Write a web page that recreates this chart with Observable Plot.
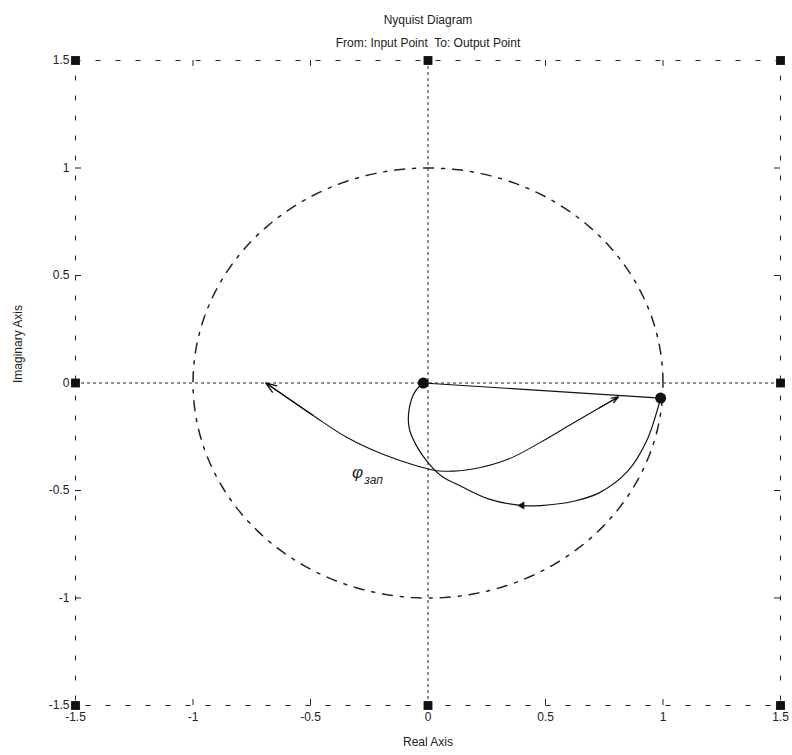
<!DOCTYPE html>
<html><head><meta charset="utf-8">
<script src="https://cdn.jsdelivr.net/npm/d3@7"></script>
<script src="https://cdn.jsdelivr.net/npm/@observablehq/plot@0.6"></script>
<style>body{margin:0;background:#fff}#chart{width:792px;height:755px}</style>
</head><body><div id="chart"></div>
<script>
const title = "Nyquist Diagram";
const subtitle = "From: Input Point  To: Output Point";
const xLabel = "Real Axis";
const yLabel = "Imaginary Axis";
const tickValues = [-1.5, -1, -0.5, 0, 0.5, 1, 1.5];
const frameTicks = [-1, -0.5, 0.5, 1];
const axisLimit = 1.5;

// Nyquist curve (from the point near 1 back to the origin)
const nyqRe = [0.99, 0.93, 0.85, 0.73, 0.62, 0.48, 0.40, 0.26, 0.14, 0.06, 0.0, -0.05, -0.08, -0.08, -0.055, -0.02];
const nyqIm = [-0.07, -0.27, -0.41, -0.51, -0.55, -0.57, -0.57, -0.54, -0.48, -0.435, -0.37, -0.29, -0.21, -0.12, -0.04, 0.0];

// straight segment from origin to the point near 1
const segRe = [-0.02, 0.99];
const segIm = [0.0, -0.07];

// phase-margin arc (double arrow)
const arcRe = [-0.69, -0.49, -0.35, -0.20, -0.06, 0.05, 0.19, 0.34, 0.48, 0.62, 0.73, 0.81];
const arcIm = [0.0, -0.15, -0.25, -0.328, -0.381, -0.409, -0.40, -0.355, -0.275, -0.185, -0.115, -0.065];

// marked points
const dotRe = [-0.02, 0.99];
const dotIm = [0.0, -0.07];
const dirArrowRe = [0.40];
const dirArrowIm = [-0.57];

// unit circle (reference guide)
const unitRadius = 1;
const circle = d3.range(0, 361, 2).map(a => ({x: unitRadius * Math.cos(a * Math.PI / 180), y: unitRadius * Math.sin(a * Math.PI / 180)}));

const nyq = nyqRe.map((x, i) => ({x, y: nyqIm[i]}));
const seg = segRe.map((x, i) => ({x, y: segIm[i]}));
const arc = arcRe.map((x, i) => ({x, y: arcIm[i]}));
const n = arc.length;
const arcHeads = [
  {x1: arc[1].x, y1: arc[1].y, x2: arc[0].x, y2: arc[0].y},
  {x1: arc[n - 2].x, y1: arc[n - 2].y, x2: arc[n - 1].x, y2: arc[n - 1].y}
];
const dots = dotRe.map((x, i) => ({x, y: dotIm[i]}));
const dirArrow = dirArrowRe.map((x, i) => ({x, y: dirArrowIm[i]}));
const squares = [
  {x: -axisLimit, y: axisLimit}, {x: 0, y: axisLimit}, {x: axisLimit, y: axisLimit},
  {x: -axisLimit, y: 0}, {x: axisLimit, y: 0},
  {x: -axisLimit, y: -axisLimit}, {x: 0, y: -axisLimit}, {x: axisLimit, y: -axisLimit}
];

const W = 792, H = 755, mL = 75, mR = 12, mT = 60, mB = 50;
const pw = W - mL - mR, ph = H - mT - mB;
const font = "'Liberation Sans', Arial, sans-serif";

const chart = Plot.plot({
  width: W, height: H,
  marginLeft: mL, marginRight: mR, marginTop: mT, marginBottom: mB,
  style: {fontFamily: font, fontSize: "12px", color: "#222", background: "#fff"},
  x: {domain: [-axisLimit, axisLimit]},
  y: {domain: [-axisLimit, axisLimit]},
  marks: [
    Plot.frame({stroke: "#222", strokeDasharray: "5,15"}),
    Plot.ruleX([0], {stroke: "#222", strokeDasharray: "3,3"}),
    Plot.ruleY([0], {stroke: "#222", strokeDasharray: "3,3"}),
    Plot.ruleX(frameTicks, {x: d => d, insetBottom: ph - 6, stroke: "#222"}),
    Plot.ruleX(frameTicks, {x: d => d, insetTop: ph - 6, stroke: "#222"}),
    Plot.ruleY(frameTicks, {y: d => d, insetRight: pw - 6, stroke: "#222"}),
    Plot.ruleY(frameTicks, {y: d => d, insetLeft: pw - 6, stroke: "#222"}),
    Plot.axisY({ticks: tickValues, tickSize: 0, tickPadding: 6, tickFormat: d => String(d), label: null, fontSize: 12}),
    Plot.axisX({ticks: tickValues, tickSize: 0, tickPadding: 7, tickFormat: d => String(d), label: null, fontSize: 12}),
    Plot.line(circle, {x: "x", y: "y", stroke: "#222", strokeDasharray: "10,8,3,8"}),
    Plot.line(seg, {x: "x", y: "y", stroke: "#111", strokeWidth: 1.2}),
    Plot.line(nyq, {x: "x", y: "y", curve: "catmull-rom", stroke: "#111", strokeWidth: 1.2}),
    Plot.line(arc, {x: "x", y: "y", curve: "catmull-rom", stroke: "#111", strokeWidth: 1.1}),
    Plot.arrow(arcHeads, {x1: "x1", y1: "y1", x2: "x2", y2: "y2", headLength: 13, headAngle: 40, stroke: "#111", strokeWidth: 1.3}),
    Plot.dot(dirArrow, {x: "x", y: "y", symbol: "triangle", rotate: -90, r: 3, fill: "#111"}),
    Plot.dot(dots, {x: "x", y: "y", r: 5.5, fill: "#111"}),
    Plot.dot(squares, {x: "x", y: "y", symbol: "square", r: 5, fill: "#111"}),
    Plot.text(["φ"], {x: -0.30, y: -0.415, fontSize: 17, fontStyle: "italic", fill: "#222"}),
    Plot.text(["зап"], {x: -0.232, y: -0.45, fontSize: 12, fontStyle: "italic", fill: "#222"}),
    Plot.text([title], {frameAnchor: "top", dy: -45, fontSize: 12, fill: "#222"}),
    Plot.text([subtitle], {frameAnchor: "top", dy: -22, fontSize: 12, fill: "#222"}),
    Plot.text([xLabel], {frameAnchor: "bottom", dy: 40, fontSize: 12, fill: "#222"}),
    Plot.text([yLabel], {frameAnchor: "left", dx: -57, rotate: -90, fontSize: 12, fill: "#222"})
  ]
});
document.getElementById("chart").appendChild(chart);
</script>
</body></html>
